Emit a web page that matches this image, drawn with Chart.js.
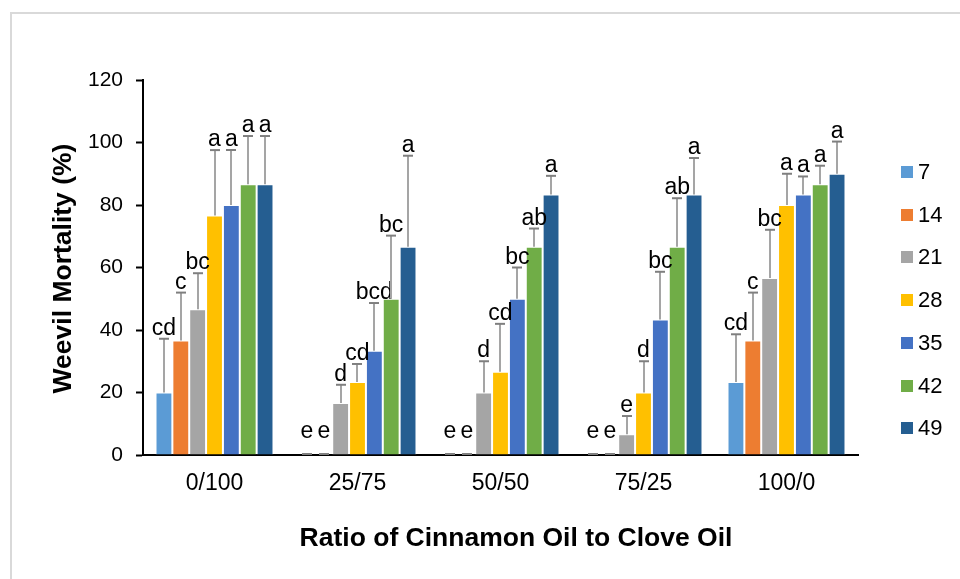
<!DOCTYPE html>
<html>
<head>
<meta charset="utf-8">
<title>Weevil Mortality</title>
<script src="https://cdn.jsdelivr.net/npm/chart.js@4/dist/chart.umd.min.js"></script>
<style>
  html, body { margin: 0; padding: 0; background: #ffffff; }
  #wrap { width: 960px; height: 579px; }
</style>
</head>
<body>
<div id="wrap"><canvas id="chart" width="960" height="579"></canvas></div>
<script>
// Oil ratio groups (cinnamon / clove)
const ratios = ['0/100', '25/75', '50/50', '75/25', '100/0'];

// Exposure days, one series each
const days = ['7', '14', '21', '28', '35', '42', '49'];

// Mean mortality (%) per day, in ratio order
const day7  = [20.00, 0, 0, 0, 23.33];
const day14 = [36.67, 0, 0, 0, 36.67];
const day21 = [46.67, 16.67, 20.00, 6.67, 56.67];
const day28 = [76.67, 23.33, 26.67, 20.00, 80.00];
const day35 = [80.00, 33.33, 50.00, 43.33, 83.33];
const day42 = [86.67, 50.00, 66.67, 66.67, 86.67];
const day49 = [86.67, 66.67, 83.33, 83.33, 90.00];

// Standard errors (upper bars)
const err7  = [17.2, 0, 0, 0, 15.3];
const err14 = [15.3, 0, 0, 0, 15.3];
const err21 = [11.5, 5.8, 10.0, 5.8, 15.4];
const err28 = [20.9, 5.8, 15.3, 10.0, 10.0];
const err35 = [17.6, 15.3, 10.0, 15.3, 5.8];
const err42 = [15.4, 20.2, 5.8, 15.5, 5.9];
const err49 = [15.4, 29.1, 6.0, 11.7, 10.3];

// Mean separation letters
const let7  = ['cd', 'e', 'e', 'e', 'cd'];
const let14 = ['c', 'e', 'e', 'e', 'c'];
const let21 = ['bc', 'd', 'd', 'e', 'bc'];
const let28 = ['a', 'cd', 'cd', 'd', 'a'];
const let35 = ['a', 'bcd', 'bc', 'bc', 'a'];
const let42 = ['a', 'bc', 'ab', 'ab', 'a'];
const let49 = ['a', 'a', 'a', 'a', 'a'];

// Y axis ticks
const yTicks = [0, 20, 40, 60, 80, 100, 120];

const xTitle = 'Ratio of Cinnamon Oil to Clove Oil';
const yTitle = 'Weevil Mortality (%)';

const values  = [day7, day14, day21, day28, day35, day42, day49];
const errors  = [err7, err14, err21, err28, err35, err42, err49];
const letters = [let7, let14, let21, let28, let35, let42, let49];
const colors  = ['#5B9BD5', '#ED7D31', '#A5A5A5', '#FFC000', '#4472C4', '#70AD47', '#255E91'];

const FONT = '"Liberation Sans", Arial, sans-serif';

const datasets = days.map((d, i) => ({
  label: d,
  data: values[i],
  backgroundColor: colors[i],
  borderColor: 'rgba(255,255,255,0.55)',
  borderWidth: 1,
  categoryPercentage: 0.825,
  barPercentage: 1.0
}));

// Outer frame, error bars, letters, legend and axis titles
const decorations = {
  id: 'decorations',
  beforeDraw(chart) {
    const ctx = chart.ctx;
    ctx.save();
    ctx.fillStyle = '#ffffff';
    ctx.fillRect(0, 0, chart.width, chart.height);
    ctx.strokeStyle = '#d9d9d9';
    ctx.lineWidth = 2;
    ctx.strokeRect(11, 13, chart.width + 20, chart.height + 20);
    ctx.restore();
  },
  afterDatasetsDraw(chart) {
    const ctx = chart.ctx;
    const yScale = chart.scales.y;
    const zeroY = yScale.getPixelForValue(0);
    ctx.save();
    chart.data.datasets.forEach((ds, i) => {
      const meta = chart.getDatasetMeta(i);
      meta.data.forEach((bar, j) => {
        const v = ds.data[j];
        const top = v + errors[i][j];
        const yTop = yScale.getPixelForValue(top);
        const yBar = yScale.getPixelForValue(v);
        const x = Math.round(bar.x);
        // stem
        ctx.strokeStyle = '#a5a5a5';
        ctx.lineWidth = 2;
        ctx.beginPath();
        ctx.moveTo(x, yBar);
        ctx.lineTo(x, yTop);
        ctx.stroke();
        // cap
        ctx.strokeStyle = '#7f7f7f';
        ctx.beginPath();
        ctx.moveTo(x - 5, yTop - (v === 0 ? 1 : 0));
        ctx.lineTo(x + 5, yTop - (v === 0 ? 1 : 0));
        ctx.stroke();
        // letter
        ctx.fillStyle = '#000000';
        ctx.font = '23px ' + FONT;
        ctx.textAlign = 'center';
        ctx.textBaseline = 'alphabetic';
        const ly = Math.min(yTop - 4, zeroY - 17);
        ctx.fillText(letters[i][j], bar.x, ly);
      });
    });
    ctx.restore();
  },
  afterDraw(chart) {
    const ctx = chart.ctx;
    const area = chart.chartArea;
    ctx.save();
    // legend
    ctx.font = '22px ' + FONT;
    ctx.textAlign = 'left';
    ctx.textBaseline = 'middle';
    chart.data.datasets.forEach((ds, i) => {
      const cy = 172 + i * 42.7;
      ctx.fillStyle = ds.backgroundColor;
      ctx.fillRect(901, Math.round(cy - 6), 12, 12);
      ctx.fillStyle = '#000000';
      ctx.fillText(ds.label, 918, cy + 1);
    });
    // axis titles
    ctx.font = 'bold 26.5px ' + FONT;
    ctx.textAlign = 'center';
    ctx.textBaseline = 'alphabetic';
    ctx.fillText(xTitle, 516, 546);
    ctx.translate(71, (area.top + area.bottom) / 2 + 1);
    ctx.rotate(-Math.PI / 2);
    ctx.fillText(yTitle, 0, 0);
    ctx.restore();
  }
};

new Chart(document.getElementById('chart'), {
  type: 'bar',
  data: { labels: ratios, datasets },
  options: {
    responsive: false,
    animation: false,
    devicePixelRatio: 1,
    layout: { padding: { left: 0, top: 80, right: 102, bottom: 0 } },
    plugins: {
      legend: { display: false },
      tooltip: { enabled: false }
    },
    scales: {
      x: {
        grid: { display: false, drawTicks: false },
        border: { display: true, color: '#000000', width: 2 },
        ticks: { color: '#000000', font: { family: FONT, size: 23 }, padding: 15 },
        afterFit(scale) { scale.height = 124; }
      },
      y: {
        min: 0,
        max: 120,
        afterBuildTicks(scale) { scale.ticks = yTicks.map(v => ({ value: v })); },
        grid: { drawOnChartArea: false, drawTicks: true, tickLength: 7, color: '#000000', tickWidth: 2 },
        border: { display: true, color: '#000000', width: 2 },
        ticks: { color: '#000000', font: { family: FONT, size: 21 }, padding: 13 },
        afterFit(scale) { scale.width = 143; }
      }
    }
  },
  plugins: [decorations]
});
</script>
</body>
</html>
